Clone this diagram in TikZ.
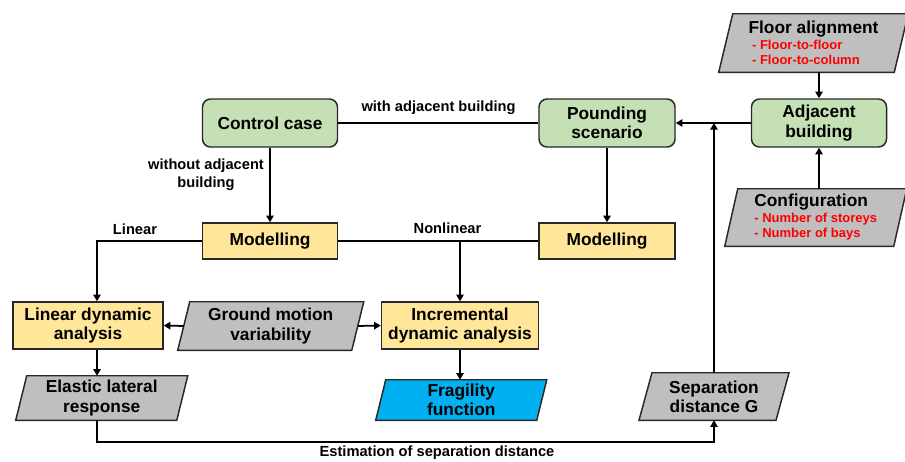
\documentclass[tikz,border=0pt]{standalone}
\usepackage{fontspec}
\setmainfont{Liberation Sans}
\usetikzlibrary{arrows.meta,calc,backgrounds}
\definecolor{gfill}{RGB}{197,224,180}
\definecolor{yfill}{RGB}{255,230,153}
\definecolor{pfill}{RGB}{191,191,191}
\definecolor{bfill}{RGB}{0,176,240}
\definecolor{edgec}{RGB}{40,40,40}
\definecolor{redt}{RGB}{255,0,0}
\newcommand\boxfont{\fontsize{13}{14.5}\selectfont\bfseries}
\newcommand\labfont{\fontsize{11}{13.5}\selectfont\bfseries}
\newcommand\redl[1]{{\color{redt}\fontsize{9.75}{11}\selectfont\bfseries #1}}
\newcommand\drawpgram[3]{%
  \filldraw[fill=#3,draw=edgec,line width=1.1pt]
    ($(#1.south west)-(#2/2,0)$) -- ($(#1.south east)-(#2/2,0)$) --
    ($(#1.north east)+(#2/2,0)$) -- ($(#1.north west)+(#2/2,0)$) -- cycle;}
\tikzset{
  gbox/.style={draw=edgec, line width=1.1pt, fill=gfill, rounded corners=6pt,
    align=center, font=\boxfont, inner sep=0pt},
  ybox/.style={draw=edgec, line width=1.1pt, fill=yfill, align=center,
    font=\boxfont, inner sep=0pt},
  pbox/.style={align=center, font=\boxfont, inner sep=0pt},
  lab/.style={font=\labfont, inner sep=0pt, align=center},
  conn/.style={line width=1.3pt, draw=black},
  arr/.style={conn, -{Triangle[length=5pt,width=5.5pt]}},
}
\begin{document}
\begin{tikzpicture}[x=0.75pt,y=-0.75pt]
\useasboundingbox (0,0) rectangle (905,461);

% rounded green boxes
\node[gbox, minimum width=101.25pt, minimum height=36pt] (ctrl) at (270,123) {Control case};
\node[gbox, minimum width=102pt, minimum height=36pt] (pound) at (607,123) {Pounding\\scenario};
\node[gbox, minimum width=101.25pt, minimum height=36pt] (adj) at (819,123) {Adjacent\\building};

% yellow boxes
\node[ybox, minimum width=101.25pt, minimum height=27pt] (model1) at (270,241) {Modelling};
\node[ybox, minimum width=102pt, minimum height=27pt] (model2) at (607,241) {Modelling};
\node[ybox, minimum width=112.5pt, minimum height=35.25pt] (lin) at (88,325.5) {Linear dynamic\\analysis};
\node[ybox, minimum width=117.75pt, minimum height=35.25pt] (ida) at (460,325.5) {Incremental\\dynamic analysis};

% parallelogram nodes (text only, shapes drawn on background)
\node[pbox, align=left, minimum width=131.25pt, minimum height=43.5pt] (floor) at (813.5,43)
  {Floor alignment\\[-2.5pt]\redl{\ - Floor-to-floor}\\[-3.25pt]\redl{\ - Floor-to-column}};
\node[pbox, align=left, minimum width=126.375pt, minimum height=42.75pt] (config) at (815.75,217.5)
  {Configuration\\[-2.5pt]\redl{- Number of storeys}\\[-3.25pt]\redl{- Number of bays}};
\node[pbox, minimum width=130.125pt, minimum height=36pt] (gm) at (270.75,326) {Ground motion\\variability};
\node[pbox, minimum width=120.375pt, minimum height=33pt] (elastic) at (101.75,398) {Elastic lateral\\response};
\node[pbox, minimum width=120.375pt, minimum height=30pt] (frag) at (461.25,400) {Fragility\\function};
\node[pbox, minimum width=102.375pt, minimum height=35.25pt] (sep) at (714,396.5) {Separation\\distance G};

\begin{pgfonlayer}{background}
  \drawpgram{floor}{14}{pfill}
  \drawpgram{config}{13}{pfill}
  \drawpgram{gm}{12}{pfill}
  \drawpgram{elastic}{11}{pfill}
  \drawpgram{frag}{10}{bfill}
  \drawpgram{sep}{13}{pfill}
\end{pgfonlayer}

% labels
\node[lab] (lwith) at (438.5,108) {with adjacent building};
\node[lab] (lwithout) at (206,175) {without adjacent\\building};
\node[lab] (llinear) at (135,229) {Linear};
\node[lab] (lnonlin) at (447.5,228) {Nonlinear};
\node[lab] (lestim) at (437,453) {Estimation of separation distance};

\coordinate (bot) at (0,442);

% connectors
\draw[conn] (ctrl.east) -- (pound.west);
\draw[arr] (ctrl.south) -- (model1.north);
\draw[arr] (pound.south) -- (model2.north);
\draw[arr] (adj.west) -- (pound.east);
\draw[arr] (adj.north |- floor.south) -- (adj.north);
\draw[arr] (adj.south |- config.north) -- (adj.south);
\draw[conn] (model1.east) -- (model2.west);
\draw[arr] (ida.north |- model1.east) -- (ida.north);
\draw[arr] (model1.west) -| ([xshift=6.75pt]lin.north);
\draw[arr] (gm.west) -- (lin.east);
\draw[arr] (gm.east) -- (ida.west);
\draw[arr] ([xshift=6.75pt]lin.south) -- ([xshift=6.75pt]lin.south |- elastic.north);
\draw[arr] (ida.south) -- (ida.south |- frag.north);
\draw[arr] ([xshift=6.75pt]lin.south |- elastic.south) |- (sep.south |- bot) -- (sep.south);
\draw[arr] (sep.north) -- (sep.north |- adj.west);
\end{tikzpicture}
\end{document}
